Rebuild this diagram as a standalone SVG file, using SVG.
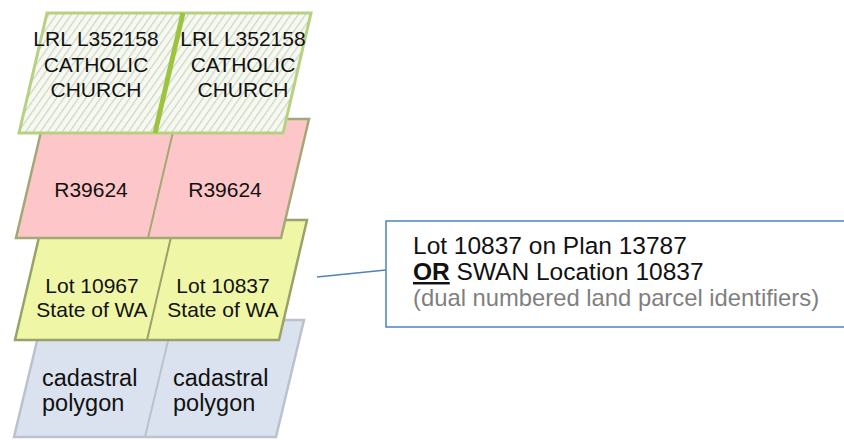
<svg xmlns="http://www.w3.org/2000/svg" width="844" height="440" viewBox="0 0 844 440">
<defs>
<pattern id="hatch" width="6" height="6" patternUnits="userSpaceOnUse" patternTransform="rotate(35)">
<rect width="6" height="6" fill="#f6f9ee"/>
<line x1="0" y1="0" x2="0" y2="6" stroke="#cfd2cc" stroke-width="2.4"/>
</pattern>
<clipPath id="boxclip"><rect x="386" y="221" width="460" height="92"/></clipPath>
</defs>
<style>
text{font-family:"Liberation Sans",Arial,sans-serif;fill:#111}
.c{text-anchor:middle;font-size:21px}
.l{font-size:23.5px}
.green{fill:url(#hatch);stroke:#b7d183;stroke-width:3}
.gdiv{stroke:#9cc43e;stroke-width:5}
.pink{fill:#fdc7c9;stroke:#a3a875;stroke-width:2.5}
.yellow{fill:#eff7a7;stroke:#99a268;stroke-width:2.5}
.blue{fill:#dae2ef;stroke:#bcc2cd;stroke-width:2.5}
.pdiv{stroke:#a3a875;stroke-width:2}
.ydiv{stroke:#99a268;stroke-width:2}
.bdiv{stroke:#bcc2cd;stroke-width:2}
.big{font-size:24.5px}
.note{font-size:23.8px;fill:#7f7f7f}
</style>
<g id="blue-layer">
<polygon class="blue" points="42,320 304,320 276,437 14,437"/>
<line class="bdiv" x1="173" y1="320" x2="145" y2="437"/>
<text class="l" x="42" y="386">cadastral</text>
<text class="l" x="42" y="411">polygon</text>
<text class="l" x="173" y="386">cadastral</text>
<text class="l" x="173" y="411">polygon</text>
</g>
<g id="yellow-layer">
<polygon class="yellow" points="43,220 307,220 279,340 15,340"/>
<line class="ydiv" x1="175" y1="220" x2="147" y2="340"/>
<text class="c" x="92" y="293">Lot 10967</text>
<text class="c" x="92" y="317">State of WA</text>
<text class="c" x="223" y="293">Lot 10837</text>
<text class="c" x="223" y="317">State of WA</text>
</g>
<g id="pink-layer">
<polygon class="pink" points="44,119 309,119 281,238 16,238"/>
<line class="pdiv" x1="176" y1="119" x2="148" y2="238"/>
<text class="c" x="91" y="197">R39624</text>
<text class="c" x="225" y="197">R39624</text>
</g>
<g id="green-layer">
<polygon class="green" points="47,13 311,13 283,133 19,133"/>
<line class="gdiv" x1="183" y1="13" x2="155" y2="133"/>
<text class="c" x="96" y="46">LRL L352158</text>
<text class="c" x="96" y="72">CATHOLIC</text>
<text class="c" x="96" y="97">CHURCH</text>
<text class="c" x="243" y="46">LRL L352158</text>
<text class="c" x="243" y="72">CATHOLIC</text>
<text class="c" x="243" y="97">CHURCH</text>
</g>
<g id="connectors">
<line x1="317" y1="277" x2="386" y2="270" stroke="#4f81bd" stroke-width="1.5"/>
</g>
<g id="callout">
<rect x="386" y="221" width="470" height="106" fill="#fff" stroke="#4f81bd" stroke-width="1.5"/>
<g clip-path="url(#boxclip)">
<text class="big" x="413" y="254">Lot 10837 on Plan 13787</text>
<text class="big" x="413" y="280"><tspan font-weight="bold" text-decoration="underline">OR</tspan> SWAN Location 10837</text>
<text class="note" x="413" y="306">(dual numbered land parcel identifiers)</text>
</g>
</g>
</svg>
